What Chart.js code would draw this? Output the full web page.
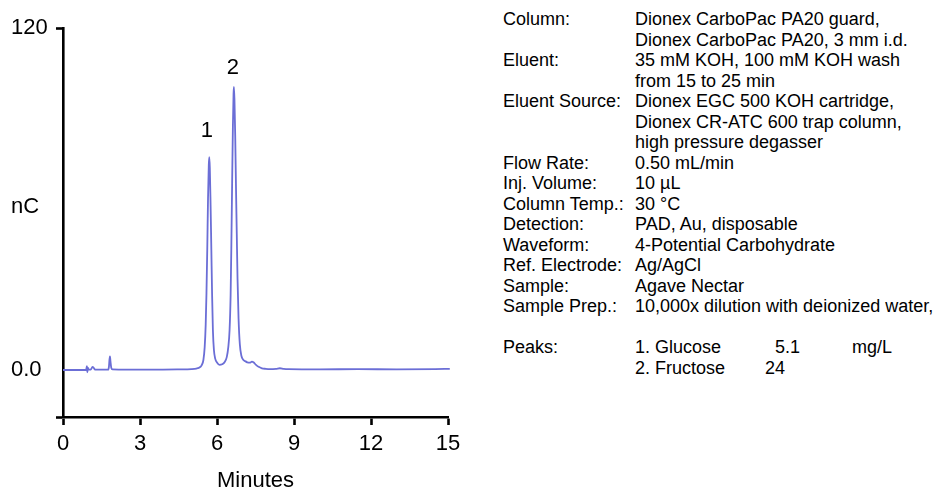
<!DOCTYPE html>
<html>
<head>
<meta charset="utf-8">
<script src="https://cdn.jsdelivr.net/npm/chart.js@4/dist/chart.umd.min.js"></script>
<style>
  body { margin: 0; background: #fff; font-family: "Liberation Sans", Arial, sans-serif; color: #000; }
  #wrap { position: absolute; left: 0; top: 0; width: 480px; height: 491px; }
  #info { position: absolute; left: 503px; top: 9px; font-size: 18px; }
  #info .row { position: relative; height: 20.5px; line-height: 20.5px; white-space: nowrap; }
  #info .row span { position: absolute; top: 0; }
</style>
</head>
<body>
<div id="wrap"><canvas id="chromChart" width="480" height="491"></canvas></div>
<div id="info"></div>
<script>
// retention time (min) and detector response (nC)
const times = [
  0.00, 0.50, 0.90, 0.93, 0.95, 0.97, 1.00, 1.08, 1.15, 1.20, 1.25,
  1.76, 1.79, 1.81, 1.83, 1.85, 1.88, 1.93, 2.50, 3.50, 4.50, 5.00,
  5.20, 5.30, 5.40, 5.47, 5.52, 5.56, 5.59, 5.62, 5.65, 5.68, 5.70,
  5.72, 5.75, 5.78, 5.81, 5.84, 5.88, 5.93, 6.00, 6.10, 6.20, 6.30,
  6.38, 6.44, 6.49, 6.53, 6.56, 6.59, 6.62, 6.645, 6.66, 6.68, 6.71,
  6.74, 6.77, 6.80, 6.84, 6.89, 6.95, 7.02, 7.10, 7.18, 7.28, 7.36,
  7.42, 7.52, 7.62, 7.75, 7.90, 8.06, 8.30, 8.45, 8.60, 8.80, 10.0,
  11.5, 13.0, 14.5, 15.07
];
const signal = [
  0.0, 0.0, 0.0, 1.3, -0.8, 0.8, 0.1, 0.1, 1.1, 0.7, 0.1,
  0.1, 1.2, 3.6, 4.8, 3.0, 0.8, 0.2, 0.1, 0.1, 0.2, 0.3,
  0.5, 0.8, 1.6, 3.5, 8, 16, 27, 42, 60, 72, 74.7,
  71, 58, 42, 26, 14, 7, 4, 2.6, 1.8, 2.0, 2.8,
  4.5, 8, 14, 26, 44, 66, 86, 97, 99.3, 95, 82,
  64, 48, 32, 18, 9, 5, 3.6, 3.1, 2.7, 2.6, 2.9,
  2.7, 1.8, 1.1, 0.6, 0.4, 0.3, 0.4, 0.6, 0.4, 0.3, 0.2,
  0.3, 0.2, 0.3, 0.4
];

const xTicks = [0, 3, 6, 9, 12, 15];
const yMin = -16.5;
const yTicks = [0, 120];
const yTickLabels = ["0.0", "120"];

const peakNames = ["1", "2"];
const peakLabelTimes = [5.61, 6.62];
const peakLabelHeights = [84, 106];

const infoLabels = [
  "Column:", "", "Eluent:", "", "Eluent Source:", "", "", "Flow Rate:",
  "Inj. Volume:", "Column Temp.:", "Detection:", "Waveform:",
  "Ref. Electrode:", "Sample:", "Sample Prep.:"
];
const infoValues = [
  "Dionex CarboPac PA20 guard,", "Dionex CarboPac PA20, 3 mm i.d.",
  "35 mM KOH, 100 mM KOH wash", "from 15 to 25 min",
  "Dionex EGC 500 KOH cartridge,", "Dionex CR-ATC 600 trap column,",
  "high pressure degasser", "0.50 mL/min", "10 µL", "30 °C",
  "PAD, Au, disposable", "4-Potential Carbohydrate", "Ag/AgCl",
  "Agave Nectar", "10,000x dilution with deionized water,"
];
const peakRows = [
  ["1. Glucose", "5.1", "mg/L"],
  ["2. Fructose", "24", ""]
];

const lineColor = "#6b6ed6";
const font = "'Liberation Sans', Arial, sans-serif";

function buildInfo() {
  const info = document.getElementById("info");
  infoLabels.forEach((label, i) => {
    const row = document.createElement("div");
    row.className = "row";
    row.innerHTML = `<span style="left:0">${label}</span><span style="left:132px">${infoValues[i]}</span>`;
    info.appendChild(row);
  });
  info.appendChild(Object.assign(document.createElement("div"), { className: "row" }));
  peakRows.forEach((cells, i) => {
    const row = document.createElement("div");
    row.className = "row";
    const offsets = i === 0 ? [272, 349] : [262, 349];
    row.innerHTML =
      `<span style="left:0">${i === 0 ? "Peaks:" : ""}</span>` +
      `<span style="left:132px">${cells[0]}</span>` +
      `<span style="left:${offsets[0]}px">${cells[1]}</span>` +
      `<span style="left:${offsets[1]}px">${cells[2]}</span>`;
    info.appendChild(row);
  });
}

const labelPlugin = {
  id: "peakLabels",
  afterDraw(chart) {
    const { ctx, scales } = chart;
    ctx.save();
    ctx.fillStyle = "#000";
    ctx.font = `22px ${font}`;
    ctx.textBaseline = "middle";
    ctx.textAlign = "center";
    peakNames.forEach((name, i) => {
      ctx.fillText(name, scales.x.getPixelForValue(peakLabelTimes[i]), scales.y.getPixelForValue(peakLabelHeights[i]));
    });
    ctx.textAlign = "left";
    ctx.fillText("nC", 11, 207);
    ctx.restore();
  }
};

buildInfo();

new Chart(document.getElementById("chromChart").getContext("2d"), {
  type: "line",
  data: {
    datasets: [
      {
        data: times.map((t, i) => ({ x: t, y: signal[i] })),
        borderColor: lineColor,
        borderWidth: 1.8,
        pointRadius: 0,
        cubicInterpolationMode: "monotone",
        clip: false
      }
    ]
  },
  plugins: [labelPlugin],
  options: {
    responsive: false,
    animation: false,
    devicePixelRatio: 1,
    layout: { padding: { left: 11, top: 28, right: 32, bottom: 0 } },
    plugins: { legend: { display: false }, tooltip: { enabled: false } },
    scales: {
      x: {
        type: "linear",
        min: 0,
        max: 15,
        afterBuildTicks: scale => { scale.ticks = xTicks.map(v => ({ value: v })); },
        afterFit: scale => { scale.height = 74; },
        border: { display: true, color: "#000", width: 2.6 },
        grid: { drawOnChartArea: false, drawTicks: true, tickLength: 8, tickColor: "#000", tickWidth: 2.6 },
        ticks: { color: "#000", font: { family: font, size: 22 }, padding: 6, maxRotation: 0 },
        title: { display: true, text: "Minutes", color: "#000", font: { family: font, size: 22 }, padding: { top: 4, bottom: -3 } }
      },
      y: {
        type: "linear",
        min: yMin,
        max: 120,
        afterBuildTicks: scale => {
          scale.ticks = [{ value: yMin }].concat(yTicks.map(v => ({ value: v })));
        },
        afterFit: scale => { scale.width = 52; },
        border: { display: true, color: "#000", width: 2.6 },
        grid: {
          drawOnChartArea: false,
          drawTicks: true,
          tickLength: 7,
          tickWidth: 2.6,
          tickColor: c => (c.tick && c.tick.value === 0 ? "rgba(0,0,0,0)" : "#000")
        },
        ticks: {
          color: "#000",
          crossAlign: "far",
          font: { family: font, size: 22 },
          callback: value => {
            const i = yTicks.indexOf(value);
            return i >= 0 ? yTickLabels[i] : "";
          }
        }
      }
    }
  }
});
</script>
</body>
</html>
